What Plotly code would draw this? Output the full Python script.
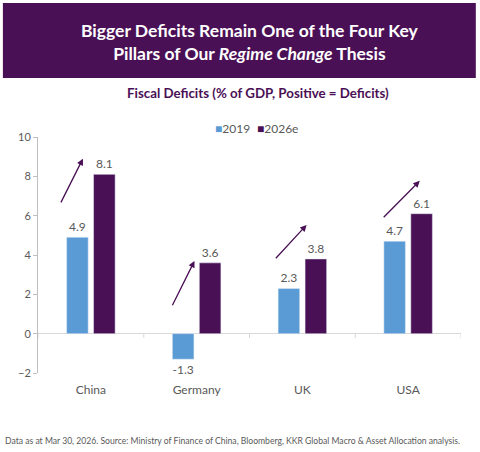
import plotly.graph_objects as go

# data
countries = ["China", "Germany", "UK", "USA"]
deficit_2019 = [4.9, -1.3, 2.3, 4.7]
deficit_2026e = [8.1, 3.6, 3.8, 6.1]
series_names = ["2019", "2026e"]
y_ticks = [-2, 0, 2, 4, 6, 8, 10]

blue = "#5b9bd5"
purple = "#4a1055"
grey = "#595959"
font = "Lato"

fig = go.Figure()
fig.add_trace(go.Bar(x=countries, y=deficit_2019, name=series_names[0], marker_color=blue,
                     text=[f"{v:.1f}" for v in deficit_2019], textposition="outside",
                     textfont=dict(size=12, color=grey), cliponaxis=False))
fig.add_trace(go.Bar(x=countries, y=deficit_2026e, name=series_names[1], marker_color=purple,
                     text=[f"{v:.1f}" for v in deficit_2026e], textposition="outside",
                     textfont=dict(size=12, color=grey), cliponaxis=False))

# compact legend like the original (small squares right next to the labels)
for name, col, xpos in [(series_names[0], blue, 0.414), (series_names[1], purple, 0.513)]:
    fig.add_annotation(xref="paper", yref="paper", x=xpos, y=1.038, xanchor="left", yanchor="middle",
                       showarrow=False, text=f"<span style='color:{col}'>■</span>{name}",
                       font=dict(family=font, size=12, color=grey))

# arrows (tail -> head), x in category index units
arrows = [(-0.29, 6.6, -0.075, 8.9), (0.764, 1.37, 0.98, 3.7),
          (1.736, 3.76, 2.04, 5.53), (2.755, 5.84, 3.11, 7.77)]
for x0, y0, x1, y1 in arrows:
    fig.add_annotation(x=x1, y=y1, ax=x0, ay=y0, xref="x", yref="y", axref="x", ayref="y",
                       showarrow=True, arrowhead=2, arrowsize=1, arrowwidth=1.3,
                       arrowcolor=purple, text="")

# header box
fig.add_shape(type="rect", xref="paper", yref="paper", x0=-0.083, x1=1.035, y0=1.25, y1=1.568,
              fillcolor=purple, line_width=0, layer="below")
fig.add_annotation(xref="paper", yref="paper", x=0.5, y=1.403, yanchor="middle", showarrow=False,
                   text="<b>Bigger Deficits Remain One of the Four Key<br>Pillars of Our <i>Regime Change</i> Thesis</b>",
                   font=dict(family=font, size=17.5, color="white"), align="center")
fig.add_annotation(xref="paper", yref="paper", x=0.52, y=1.186, yanchor="middle", showarrow=False,
                   text="<b>Fiscal Deficits (% of GDP, Positive = Deficits)</b>",
                   font=dict(family=font, size=13.3, color=purple))
fig.add_annotation(xref="paper", yref="paper", x=-0.083, y=-0.288, xanchor="left", yanchor="middle",
                   showarrow=False,
                   text="Data as at Mar 30, 2026. Source: Ministry of Finance of China, Bloomberg, KKR Global Macro & Asset Allocation analysis.",
                   font=dict(family=font, size=8.6, color=grey))

# category tick marks on the zero line
for xt in [-0.5, 0.5, 1.5, 2.5, 3.5]:
    fig.add_shape(type="line", xref="x", yref="y", x0=xt, x1=xt, y0=0, y1=-0.22,
                  line=dict(color="#d9d9d9", width=1))

fig.update_layout(
    width=480, height=452,
    margin=dict(l=38, r=19, t=137, b=79),
    plot_bgcolor="white", paper_bgcolor="white",
    barmode="group", bargap=0.49, bargroupgap=0.2,
    font=dict(family=font, color=grey),
    showlegend=False,
)
fig.update_xaxes(range=[-0.5, 3.5], showline=False, showgrid=False, ticks="",
                 ticklabelstandoff=8, tickfont=dict(size=12, color=grey))
fig.update_yaxes(range=[-2, 10], tickvals=y_ticks, showgrid=False, showline=True,
                 linecolor="#bfbfbf", ticks="outside", ticklen=4, tickcolor="#bfbfbf",
                 zeroline=True, zerolinecolor="#d9d9d9", zerolinewidth=1,
                 tickfont=dict(size=11, color=grey))

fig.write_html("out.html", config={"displayModeBar": False},
               post_script="document.body.style.margin='0';")
